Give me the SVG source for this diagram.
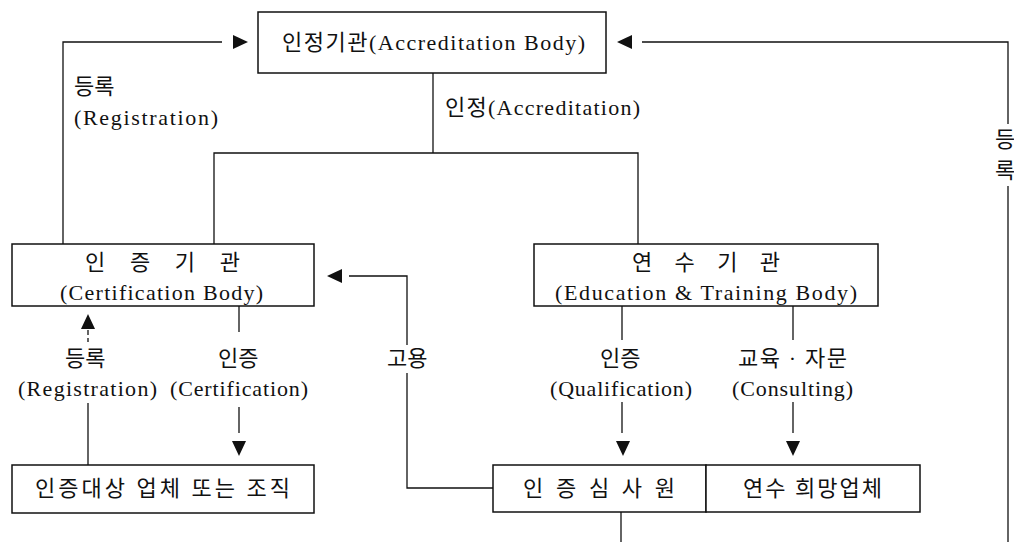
<svg xmlns="http://www.w3.org/2000/svg" xmlns:xlink="http://www.w3.org/1999/xlink" width="1014" height="542" viewBox="0 0 1014 542">
<style>
text{font-family:"Liberation Serif","Noto Sans CJK KR",serif;font-size:22px;fill:#111}
.box{fill:#fff;stroke:#111;stroke-width:1.5}
.ln{fill:none;stroke:#111;stroke-width:1.3}
.ah{fill:#111}
</style>
<defs>
<path id="tri" d="M0,-7 L15,0 L0,7 Z"/>
</defs>
<rect width="1014" height="542" fill="#fff"/>
<g id="connectors">
<polyline class="ln" points="63,244 63,42 222,42"/>
<use href="#tri" class="ah" transform="translate(233,42)"/>
<polyline class="ln" points="433,73 433,153"/>
<polyline class="ln" points="214,244 214,153 638,153 638,244"/>
<polyline class="ln" points="642,42 1008,42 1008,124"/>
<line class="ln" x1="1008" y1="186" x2="1008" y2="542"/>
<use href="#tri" class="ah" transform="translate(632,42) rotate(180)"/>
<line class="ln" x1="88" y1="330" x2="88" y2="342" stroke-dasharray="5,3"/>
<use href="#tri" class="ah" transform="translate(88,329) rotate(-90)"/>
<line class="ln" x1="88" y1="403" x2="88" y2="465"/>
<line class="ln" x1="239" y1="306" x2="239" y2="332"/>
<line class="ln" x1="239" y1="407" x2="239" y2="433"/>
<use href="#tri" class="ah" transform="translate(239,441) rotate(90)"/>
<polyline class="ln" points="349,276 407,276 407,345"/>
<polyline class="ln" points="407,373 407,488 493,488"/>
<use href="#tri" class="ah" transform="translate(342,276) rotate(180)"/>
<line class="ln" x1="622" y1="306" x2="622" y2="340"/>
<line class="ln" x1="622" y1="402" x2="622" y2="433"/>
<use href="#tri" class="ah" transform="translate(623,441) rotate(90)"/>
<line class="ln" x1="793" y1="306" x2="793" y2="340"/>
<line class="ln" x1="793" y1="402" x2="793" y2="433"/>
<use href="#tri" class="ah" transform="translate(793,441) rotate(90)"/>
<line class="ln" x1="621" y1="512" x2="621" y2="542"/>
<text x="74" y="94" font-size="20">등록</text>
<text x="74" y="125" textLength="144" lengthAdjust="spacing">(Registration)</text>
<text x="445" y="115" textLength="195" lengthAdjust="spacing">인정(Accreditation)</text>
<text x="1005" y="147" text-anchor="middle" font-size="16">등</text>
<text x="1005" y="178" text-anchor="middle" font-size="16">록</text>
<text x="65" y="366">등록</text>
<text x="18" y="396" textLength="139" lengthAdjust="spacing">(Registration)</text>
<text x="218" y="366">인증</text>
<text x="170" y="396" textLength="138" lengthAdjust="spacing">(Certification)</text>
<text x="387" y="366">고용</text>
<text x="600" y="366">인증</text>
<text x="550" y="396" textLength="142" lengthAdjust="spacing">(Qualification)</text>
<text x="738" y="366" textLength="109" lengthAdjust="spacing">교육 · 자문</text>
<text x="732" y="396" textLength="121" lengthAdjust="spacing">(Consulting)</text>
</g>
<g id="accreditation-body">
<rect class="box" x="258" y="12" width="348" height="61"/>
<text x="282" y="50" textLength="303" lengthAdjust="spacing">인정기관(Accreditation Body)</text>
</g>
<g id="certification-body">
<rect class="box" x="12" y="244" width="302" height="62"/>
<text x="85" y="270" textLength="155" lengthAdjust="spacing">인 증 기 관</text>
<text x="60" y="300" textLength="203" lengthAdjust="spacing">(Certification Body)</text>
</g>
<g id="education-body">
<rect class="box" x="534" y="244" width="344" height="62"/>
<text x="632" y="270" textLength="148" lengthAdjust="spacing">연 수 기 관</text>
<text x="555" y="300" textLength="302" lengthAdjust="spacing">(Education &amp; Training Body)</text>
</g>
<g id="certified-org">
<rect class="box" x="12" y="465" width="302" height="48"/>
<text x="35" y="496" textLength="255" lengthAdjust="spacing">인증대상 업체 또는 조직</text>
</g>
<g id="auditor">
<rect class="box" x="493" y="465" width="213" height="47"/>
<text x="523" y="496" textLength="152" lengthAdjust="spacing">인 증 심 사 원</text>
</g>
<g id="trainee-company">
<rect class="box" x="706" y="465" width="214" height="47"/>
<text x="743" y="496" textLength="139" lengthAdjust="spacing">연수 희망업체</text>
</g>
</svg>
